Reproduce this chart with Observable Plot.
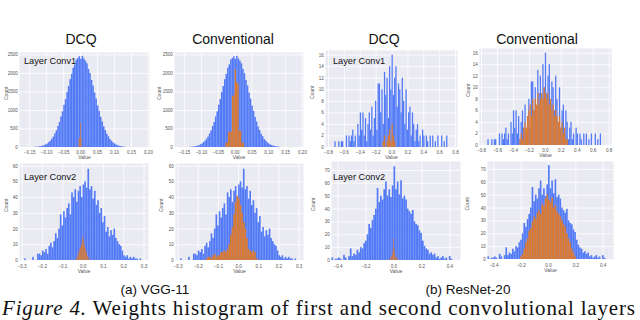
<!DOCTYPE html>
<html><head><meta charset="utf-8">
<script src="https://cdn.jsdelivr.net/npm/d3@7"></script>
<script src="https://cdn.jsdelivr.net/npm/@observablehq/plot@0.6"></script>
<style>
html,body{margin:0;padding:0;background:#fff}
#root{position:relative;width:640px;height:320px;overflow:hidden;font-family:"Liberation Sans",Arial,sans-serif}
#root svg{position:absolute}
</style></head><body>
<div id="root"></div>
<script>
// ---------- text ----------
const columnTitles = ["DCQ", "Conventional", "DCQ", "Conventional"];
const layerLabels = ["Layer Conv1", "Layer Conv2"];
const subCaptions = ["(a) VGG-11", "(b) ResNet-20"];
const figureLabel = "Figure 4.";
const figureText = " Weights histogram of first and second convolutional layers";

// ---------- ticks ----------
const vggConv1XTicks = [-0.15, -0.10, -0.05, 0, 0.05, 0.10, 0.15, 0.20];
const vggConv1YTicks = [0, 500, 1000, 1500, 2000, 2500];
const resConv1XTicks = [-0.8, -0.6, -0.4, -0.2, 0, 0.2, 0.4, 0.6, 0.8];
const resConv1YTicks = [0, 2, 4, 6, 8, 10, 12, 14, 16];
const vggConv2XTicks = [-0.3, -0.2, -0.1, 0, 0.1, 0.2, 0.3];
const vggConv2YTicks = [0, 10, 20, 30, 40, 50, 60];
const resConv2XTicks = [-0.4, -0.2, 0, 0.2, 0.4];
const resConv2YTicks = [0, 10, 20, 30, 40, 50, 60, 70];

// ---------- histogram counts (bin start, bin width, counts) ----------
// VGG-11 conv1 full-precision weights (blue, shared by both columns)
const vggConv1BlueStart = -0.135, vggConv1BlueWidth = 0.0045;
const vggConv1Blue = [5,9,11,19,25,38,49,72,94,131, 168,225,282,368,450,566,676,826,962,1140,
  1295,1483,1645,1830,1975,2140,2230,2360,2400,2450, 2380,2460,2390,2330,2260,2110,1995,1810,1660,1470,
  1310,1120,975,815,690,555,460,358,290,218, 172,126,98,68,52,35,27,17,12,6];
const vggConv1DcqStart = -0.004, vggConv1DcqWidth = 0.002;
const vggConv1Dcq = [240, 255, 650, 245];
const vggConv1ConvStart = -0.028, vggConv1ConvWidth = 0.004;
const vggConv1Conv = [110,120,400,410,420,1380,1400,2100,1750,1700,440,430,120,110];

// ResNet-20 conv1
const resConv1BlueStart = -0.72, resConv1BlueWidth = 0.016;
const resConv1Blue = [1,0,0,1,0,1,1,0,0,2, 0,2,1,2,3,1,2,0,4,2, 6,3,6,2,5,1,4,6,3,7,
  2,5,8,3,11,11,6,10,4,13, 9,12,5,14,10,16,9,12,14,7, 11,10,6,12,8,4,10,3,6,7,
  2,6,4,1,3,4,1,2,0,3, 2,0,2,1,0,2,0,2,0,1, 0,2,0,0,2,0,1,0,2,0];
const resConv1DcqStart = -0.112, resConv1DcqWidth = 0.016;
const resConv1Dcq = [1,2,0,1,2,3,1,4,2,1];
const resConv1ConvStart = -0.32, resConv1ConvWidth = 0.016;
const resConv1Conv = [1,2,1,3,4,3,5,6,7,5, 8,6,8,7,9,7,8,9,8,10, 9,8,9,7,8,6,7,5,6,5, 4,5,3,4,2,3,1,1];

// VGG-11 conv2
const vggConv2BlueStart = -0.296, vggConv2BlueWidth = 0.008;
const vggConv2Blue = [0,1,0,0,0,0,2,0,0,4, 4,3,6,5,7,4,9,11,8,12, 17,14,20,29,22,31,27,33,36,29,
  43,40,45,37,44,47,40,48,50,46, 58,45,47,39,44,35,38,30,33,24, 28,18,21,15,19,16,20,14,12,10,
  9,6,3,2,3,1,2,1,2,1, 1,0,1,0];
const vggConv2DcqStart = -0.032, vggConv2DcqWidth = 0.004;
const vggConv2Dcq = [1,2,4,5,7,8,10,13,15,12,9,7,5,3,2,1];
const vggConv2ConvStart = -0.16, vggConv2ConvWidth = 0.008;
const vggConv2Conv = [1,2,2,1,3,4,2,3,3,5, 5,6,5,7,10,16,21,29,37,41, 39,35,30,24,20,14,7,6,5,6, 5,1];

// ResNet-20 conv2
const resConv2BlueStart = -0.456, resConv2BlueWidth = 0.012;
const resConv2Blue = [0,2,0,1,1,2,1,0,4,2, 0,3,9,3,5,4,8,6,10,9, 13,15,20,28,25,31,35,40,56,45,
  50,47,55,61,50,55,49,58,73,55, 61,51,62,48,50,47,40,38,36,39, 30,28,27,23,21,15,11,9,8,5,
  6,4,5,2,3,1,2,3,1,2, 0,3,1,0,0,0];
const resConv2DcqStart = -0.028, resConv2DcqWidth = 0.004;
const resConv2Dcq = [1,1,2,3,4,6,10,17,9,5,3,2,2,1,1];
const resConv2ConvStart = -0.204, resConv2ConvWidth = 0.012;
const resConv2Conv = [2,4,8,13,16,22,24,29,33,31, 36,38,35,43,41,47,50,46,44,48,
  40,42,37,35,33,30,27,25,20,16, 13,8,5,2];

// ---------- helpers ----------
const bins = (start, width, counts) =>
  counts.map((c, i) => ({x1: start + i * width, x2: start + (i + 1) * width, y: c}));
const fmt = (digits) => (d) => (d < 0 ? "\u2212" : "") + Math.abs(d).toFixed(digits);

const BLUE = "#4470f7", ORANGE = "#e07a2a", PANEL_BG = "#eaeaf2", TICK = "#555";
const root = document.getElementById("root");

function drawPanel(p) {
  const ml = 30, mr = 4, mt = 4, mb = 22;
  const fw = p.fr - p.fl, fh = p.fb - p.ft;
  const chart = Plot.plot({
    width: ml + fw + mr, height: mt + fh + mb,
    marginLeft: ml, marginRight: mr, marginTop: mt, marginBottom: mb,
    style: {background: "transparent", fontFamily: "Liberation Sans, Arial, sans-serif", overflow: "visible"},
    x: {domain: p.xDomain},
    y: {domain: p.yDomain},
    marks: [
      Plot.frame({fill: PANEL_BG, stroke: null}),
      Plot.gridX({ticks: p.xTicks, stroke: "#fff", strokeOpacity: 1, strokeWidth: 0.8}),
      Plot.gridY({ticks: p.yTicks, stroke: "#fff", strokeOpacity: 1, strokeWidth: 0.8}),
      Plot.rectY(p.blue, {x1: "x1", x2: "x2", y: "y", fill: BLUE, fillOpacity: 0.92}),
      Plot.rectY(p.orange, {x1: "x1", x2: "x2", y: "y", fill: ORANGE, fillOpacity: 0.97}),
      Plot.axisX({ticks: p.xTicks, tickSize: 0, tickPadding: p.xPad, fontSize: 4.6, color: TICK, tickFormat: p.xFormat, label: null}),
      Plot.axisY({ticks: p.yTicks, tickSize: 0, tickPadding: 1.6, fontSize: 4.6, color: TICK, tickFormat: (d) => String(d), label: null}),
      Plot.text(["Value"], {frameAnchor: "bottom", dy: p.valueDy, fontSize: 5, fill: TICK}),
      Plot.text(["Count"], {frameAnchor: "left", dx: p.countDx, rotate: -90, fontSize: 5, fill: TICK})
    ]
  });
  chart.style.left = (p.fl - ml) + "px";
  chart.style.top = (p.ft - mt) + "px";
  root.appendChild(chart);
}

const vggConv1BlueBins = bins(vggConv1BlueStart, vggConv1BlueWidth, vggConv1Blue);
const resConv1BlueBins = bins(resConv1BlueStart, resConv1BlueWidth, resConv1Blue);
const vggConv2BlueBins = bins(vggConv2BlueStart, vggConv2BlueWidth, vggConv2Blue);
const resConv2BlueBins = bins(resConv2BlueStart, resConv2BlueWidth, resConv2Blue);

const panels = [
  {fl: 19, fr: 149, ft: 52, fb: 147, xDomain: [-0.18, 0.203], yDomain: [0, 2565], xTicks: vggConv1XTicks, yTicks: vggConv1YTicks,
   xFormat: fmt(2), blue: vggConv1BlueBins, orange: bins(vggConv1DcqStart, vggConv1DcqWidth, vggConv1Dcq), countDx: -13.5, xPad: 3, valueDy: 11.5},
  {fl: 174, fr: 303, ft: 52, fb: 147, xDomain: [-0.18, 0.203], yDomain: [0, 2565], xTicks: vggConv1XTicks, yTicks: vggConv1YTicks,
   xFormat: fmt(2), blue: vggConv1BlueBins, orange: bins(vggConv1ConvStart, vggConv1ConvWidth, vggConv1Conv), countDx: -15, xPad: 3, valueDy: 11.5},
  {fl: 325, fr: 457, ft: 50, fb: 147, xDomain: [-0.838, 0.825], yDomain: [0, 16.8], xTicks: resConv1XTicks, yTicks: resConv1YTicks,
   xFormat: fmt(1), blue: resConv1BlueBins, orange: bins(resConv1DcqStart, resConv1DcqWidth, resConv1Dcq), countDx: -13, xPad: 3, valueDy: 11.5},
  {fl: 479, fr: 611, ft: 48, fb: 145, xDomain: [-0.825, 0.829], yDomain: [0, 16.8], xTicks: resConv1XTicks, yTicks: resConv1YTicks,
   xFormat: fmt(1), blue: resConv1BlueBins, orange: bins(resConv1ConvStart, resConv1ConvWidth, resConv1Conv), countDx: -11, xPad: 3, valueDy: 11.5},
  {fl: 19, fr: 148, ft: 163, fb: 260, xDomain: [-0.313, 0.322], yDomain: [0, 61.7], xTicks: vggConv2XTicks, yTicks: vggConv2YTicks,
   xFormat: fmt(1), blue: vggConv2BlueBins, orange: bins(vggConv2DcqStart, vggConv2DcqWidth, vggConv2Dcq), countDx: -13.5, xPad: 4, valueDy: 12.5},
  {fl: 175, fr: 303, ft: 163, fb: 260, xDomain: [-0.313, 0.322], yDomain: [0, 61.7], xTicks: vggConv2XTicks, yTicks: vggConv2YTicks,
   xFormat: fmt(1), blue: vggConv2BlueBins, orange: bins(vggConv2ConvStart, vggConv2ConvWidth, vggConv2Conv), countDx: -14, xPad: 4, valueDy: 12.5},
  {fl: 331, fr: 460, ft: 161, fb: 260, xDomain: [-0.447, 0.476], yDomain: [0, 77], xTicks: resConv2XTicks, yTicks: resConv2YTicks,
   xFormat: fmt(1), blue: resConv2BlueBins, orange: bins(resConv2DcqStart, resConv2DcqWidth, resConv2Dcq), countDx: -18, xPad: 4, valueDy: 12.5},
  {fl: 487, fr: 613, ft: 161, fb: 259, xDomain: [-0.447, 0.476], yDomain: [0, 76.2], xTicks: resConv2XTicks, yTicks: resConv2YTicks,
   xFormat: fmt(1), blue: resConv2BlueBins, orange: bins(resConv2ConvStart, resConv2ConvWidth, resConv2Conv), countDx: -20, xPad: 4, valueDy: 12.5}
];
panels.forEach(drawPanel);

// ---------- titles and captions ----------
const NS = "http://www.w3.org/2000/svg";
const overlay = document.createElementNS(NS, "svg");
overlay.setAttribute("width", 640); overlay.setAttribute("height", 320);
overlay.style.left = "0px"; overlay.style.top = "0px";
root.appendChild(overlay);
function addText(str, x, y, attrs, style) {
  const t = document.createElementNS(NS, "text");
  t.setAttribute("x", x); t.setAttribute("y", y);
  for (const k in attrs) t.setAttribute(k, attrs[k]);
  if (style) t.setAttribute("style", style);
  t.textContent = str;
  overlay.appendChild(t);
  return t;
}
const sansStyle = "font-family:'Liberation Sans',Arial,sans-serif";
const titleX = [81, 233, 384, 537];
columnTitles.forEach((s, i) => addText(s, titleX[i], 44, {"font-size": 14, "text-anchor": "middle", fill: "#111"}, sansStyle));
addText(layerLabels[0], 24, 63.5, {"font-size": 9.2, fill: "#111"}, sansStyle);
addText(layerLabels[0], 333, 64, {"font-size": 9.2, fill: "#111"}, sansStyle);
addText(layerLabels[1], 24, 179.5, {"font-size": 9.2, fill: "#111"}, sansStyle);
addText(layerLabels[1], 333, 180, {"font-size": 9.2, fill: "#111"}, sansStyle);
addText(subCaptions[0], 155, 294, {"font-size": 13.5, "text-anchor": "middle", fill: "#111"}, sansStyle);
addText(subCaptions[1], 468, 294, {"font-size": 13.5, "text-anchor": "middle", fill: "#111"}, sansStyle);
const cap = addText("", 2, 315, {"font-size": 21, fill: "#111", textLength: 633, lengthAdjust: "spacing"},
  "font-family:'Liberation Serif','Times New Roman',serif");
const ts1 = document.createElementNS(NS, "tspan"); ts1.setAttribute("font-style", "italic"); ts1.textContent = figureLabel;
const ts2 = document.createElementNS(NS, "tspan"); ts2.textContent = figureText;
cap.appendChild(ts1); cap.appendChild(ts2);
</script>
</body></html>
